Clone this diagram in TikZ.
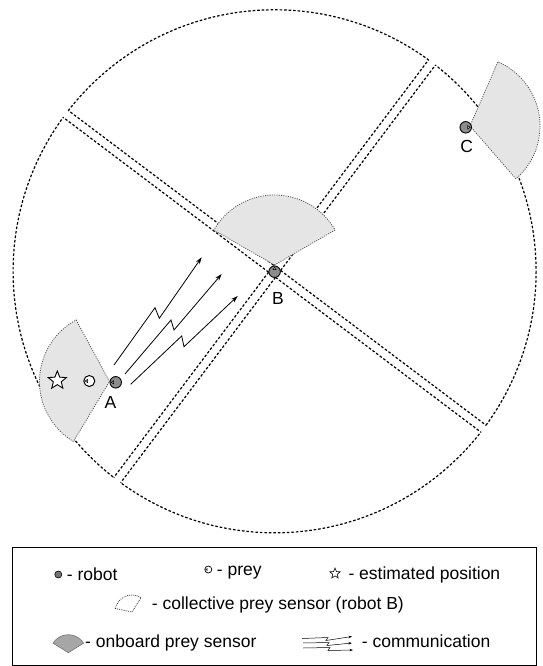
\documentclass[tikz,border=0pt]{standalone}
\usepackage{fontspec}
\setmainfont{Liberation Sans}
\usetikzlibrary{arrows.meta,shapes.geometric,calc}
\begin{document}
\begin{tikzpicture}[x=1pt,y=-1pt,
  wall/.style={line width=1.2pt,dash pattern=on 2.6pt off 1.9pt},
  sensor/.style={fill=black!10,draw=black!70,line width=0.8pt,dash pattern=on 1pt off 1.3pt},
  robot/.style={circle,draw=black,fill=black!45,line width=0.9pt,minimum size=11.5pt,inner sep=0pt},
  prey/.style={circle,draw=black,fill=white,line width=1pt,minimum size=11pt,inner sep=0pt},
  estim/.style={star,star points=5,star point ratio=2.3,draw=black,fill=white,line width=0.9pt,minimum size=19pt,inner sep=0pt},
  headmark/.style={draw=black,line width=0.5pt,fill=black!25},
  comm/.style={line width=0.8pt,-{Stealth[length=7pt,width=4.5pt]}},
  commsmall/.style={line width=0.5pt,-{Stealth[length=3.5pt,width=2.5pt]}},
  lbl/.style={font=\fontsize{17.5}{20}\selectfont,inner sep=0pt,anchor=base},
  leg/.style={font=\fontsize{17.5}{20}\selectfont,inner sep=0pt,anchor=base west},
  legbox/.style={draw=black,line width=0.9pt}
]
\useasboundingbox (0,0) rectangle (542,666);

% centre of the arena and apexes of the four sectors
\coordinate (O) at (274.6,271.3);
\coordinate (aN) at (273.75,265.28);
\coordinate (aE) at (280.62,270.45);
\coordinate (aS) at (275.45,277.32);
\coordinate (aW) at (268.58,272.15);

% corridor walls
\begin{scope}
  \clip (O) circle[radius=261.5];
  \draw[wall] (aN) -- ++(-479.2,-361.1);
  \draw[wall] (aN) -- ++(361.1,-479.2);
  \draw[wall] (aE) -- ++(361.1,-479.2);
  \draw[wall] (aE) -- ++(479.2,361.1);
  \draw[wall] (aS) -- ++(479.2,361.1);
  \draw[wall] (aS) -- ++(-361.1,479.2);
  \draw[wall] (aW) -- ++(-361.1,479.2);
  \draw[wall] (aW) -- ++(-479.2,-361.1);
\end{scope}
% outer arcs of the four sectors
\begin{scope}
  \clip (aN) -- ++(-479.2,-361.1) -- ++(361.1,-479.2) -- ++(479.2,361.1) -- cycle
        (aE) -- ++(361.1,-479.2) -- ++(479.2,361.1) -- ++(-361.1,479.2) -- cycle
        (aS) -- ++(479.2,361.1) -- ++(-361.1,479.2) -- ++(-479.2,-361.1) -- cycle
        (aW) -- ++(-361.1,479.2) -- ++(-479.2,-361.1) -- ++(361.1,-479.2) -- cycle;
  \draw[wall] (O) circle[radius=261.5];
\end{scope}

% sensors
\coordinate (sA) at (109.5,381.5);
\coordinate (sB) at (274.5,265);
\coordinate (sC) at (470,126);
\filldraw[sensor] (sA) -- ++(-118.5:70) arc[start angle=-118.5,end angle=-239,radius=70] -- cycle;
\filldraw[sensor] (sB) -- ++(-30:70) arc[start angle=-30,end angle=-150,radius=70] -- cycle;
\filldraw[sensor] (sC) -- ++(49:70) arc[start angle=49,end angle=-66.5,radius=70] -- cycle;

% robots, prey and estimate
\node[estim] (est) at (57.3,380.5) {};
\node[prey] (py) at (89.3,381) {};
\draw[headmark] ($(py)+(-4.2,0)$) -- ++(2.4,-1.5) -- ++(0,3) -- cycle;
\node[robot] (rA) at (115.7,382.3) {};
\draw[headmark] ($(rA)+(-4.5,0)$) -- ++(2.5,-1.6) -- ++(0,3.2) -- cycle;
\node[robot] (rB) at (274.6,271.7) {};
\draw[headmark] ($(rB)+(0,-4.5)$) -- ++(-1.6,2.5) -- ++(3.2,0) -- cycle;
\node[robot] (rC) at (465.7,127.3) {};
\draw[headmark] ($(rC)+(4.5,0)$) -- ++(-2.5,-1.6) -- ++(0,3.2) -- cycle;

\node[lbl] (lA) at (110.5,408.3) {A};
\node[lbl] (lB) at (278,304) {B};
\node[lbl] (lC) at (466.7,152.7) {C};

% communication from A towards B
\coordinate (c1s) at (114,365);   \coordinate (c1a) at (155,307.7);
\coordinate (c1b) at (159.3,318.3); \coordinate (c1e) at (201.7,257.3);
\coordinate (c2s) at (125,374);   \coordinate (c2a) at (171,320);
\coordinate (c2b) at (174,330);   \coordinate (c2e) at (221.7,274);
\coordinate (c3s) at (130.7,384.3); \coordinate (c3a) at (181.7,336);
\coordinate (c3b) at (184,346.7); \coordinate (c3e) at (237.7,296);
\draw[comm] (c1s) -- (c1a) -- (c1b) -- (c1e);
\draw[comm] (c2s) -- (c2a) -- (c2b) -- (c2e);
\draw[comm] (c3s) -- (c3a) -- (c3b) -- (c3e);

% legend
\draw[legbox] (12.3,547) rectangle (536.5,665.5);
\node[robot,minimum size=7pt,line width=0.6pt,fill=black!55] (kr) at (58.3,574.5) {};
\node[leg] (tr) at (66.7,580) {- robot};
\node[prey,minimum size=7pt,line width=0.7pt] (kp) at (208.3,569.5) {};
\draw[headmark,line width=0.4pt] ($(kp)+(-2.6,0)$) -- ++(1.5,-1) -- ++(0,2) -- cycle;
\node[leg] (tp) at (216.7,575) {- prey};
\node[estim,minimum size=11pt,line width=0.6pt] (ke) at (335,573.5) {};
\node[leg] (te) at (348.3,579.5) {- estimated position};
\coordinate (kc) at (132,612);
\filldraw[fill=white,draw=black!80,line width=0.7pt,dash pattern=on 0.9pt off 1pt]
  (kc) -- ++(-58:17) arc[start angle=-58,end angle=-168,radius=17] -- cycle;
\node[leg] (tc) at (151.7,609.3) {- collective prey sensor (robot B)};
\coordinate (ko) at (68.3,652.7);
\filldraw[fill=black!35,draw=black!55,line width=0.6pt]
  (ko) -- ++(-32:18) arc[start angle=-32,end angle=-148,radius=18] -- cycle;
\node[leg] (to) at (85,647.3) {- onboard prey sensor};
\draw[commsmall] (302,638.5) -- (328,637.5) -- (326,640.5) -- (352,636.5);
\draw[commsmall] (303,643) -- (329,642.5) -- (327,645.5) -- (352,643);
\draw[commsmall] (303,648) -- (330,647.5) -- (328,650.5) -- (353,650);
\node[leg] (tm) at (361.7,647.3) {- communication};
\end{tikzpicture}
\end{document}
